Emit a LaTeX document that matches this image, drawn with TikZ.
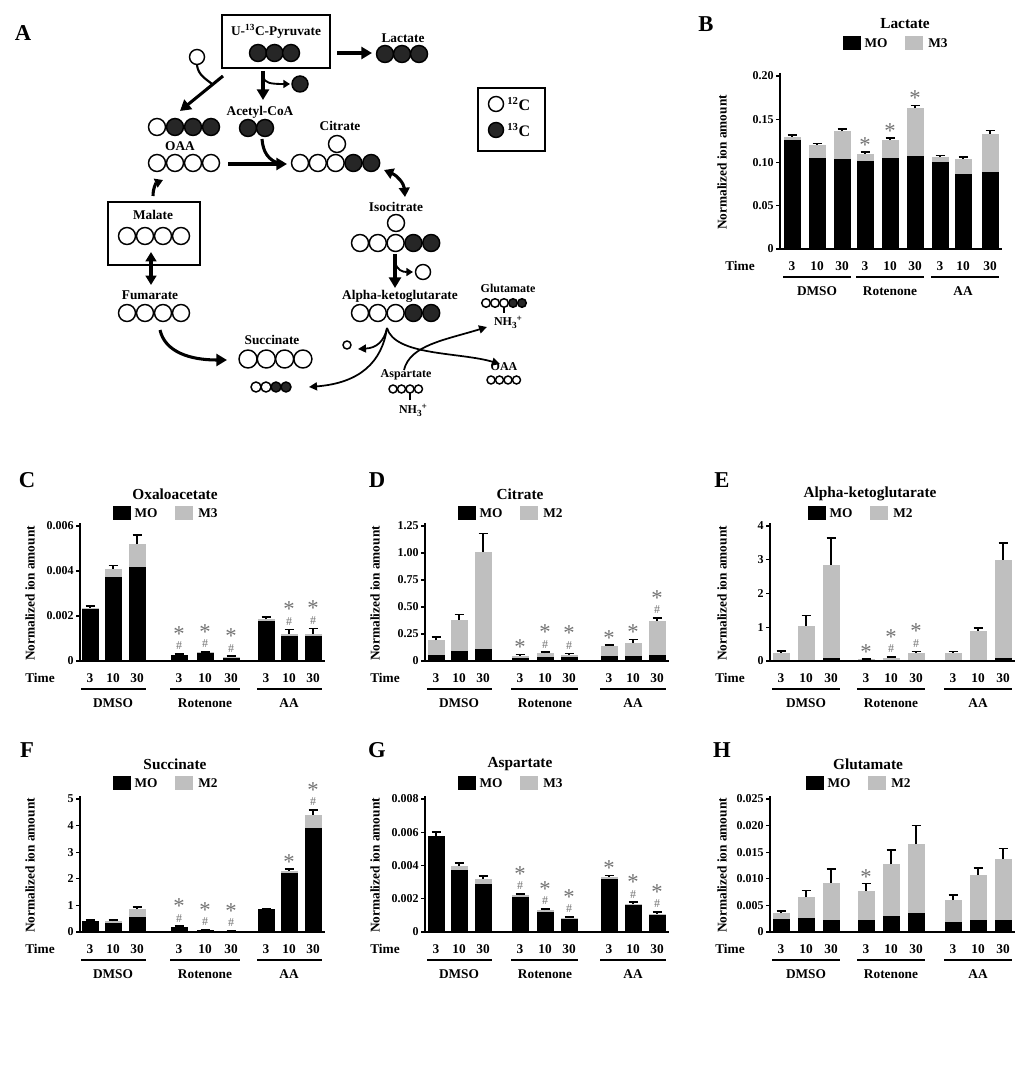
\documentclass[tikz,border=0pt]{standalone}
\usepackage{fontspec}
\setmainfont{Liberation Serif}
\usetikzlibrary{arrows.meta}
\tikzset{
 big/.style={line width=2.3pt,-{Triangle[length=8pt,width=9pt]}},
 thin/.style={line width=1.3pt,-{Triangle[length=6pt,width=6pt]}},
 lbl/.style={font=\bfseries\fontsize{10}{11}\selectfont,inner sep=0pt},
 ttl/.style={font=\bfseries\fontsize{11.5}{12}\selectfont,inner sep=0pt},
 tck/.style={font=\bfseries\fontsize{9}{10}\selectfont,inner sep=0pt},
 let/.style={font=\bfseries\fontsize{17}{17}\selectfont,inner sep=0pt},
 star/.style={text=black!55,font=\fontsize{17}{17}\selectfont,inner sep=0pt},
 hash/.style={text=black!55,font=\fontsize{9}{9}\selectfont,inner sep=0pt},
 sm/.style={lbl,font=\bfseries\fontsize{9}{10}\selectfont},
}
\newcommand\mol[5]{\foreach \c [count=\i from 0] in {#5}{%
  \pgfmathsetmacro\cx{#1+\i*#3}%
  \if b\c \filldraw[fill=black!85,line width=1.1pt] (\cx,#2) circle[radius=#4];
  \else \filldraw[fill=white,line width=1.1pt] (\cx,#2) circle[radius=#4];\fi}}
\newcommand\bars[2]{%
 \pgfmathsetmacro\sc{(\yb-\yt)/\ymax}%
 \foreach \v/\l in {#2}{\pgfmathsetmacro\ty{\yb-\v*\sc}
   \draw[line width=1pt] (\ax-4,\ty)--(\ax,\ty);
   \node[tck,anchor=east] at (\ax-6,\ty) {\l};}
 \foreach \rx/\m/\t/\e/\mk in {#1}{%
  \pgfmathsetmacro\bx{\ax+\rx}\pgfmathsetmacro\ym{\yb-\m*\sc}%
  \pgfmathsetmacro\ytt{\yb-\t*\sc}\pgfmathsetmacro\yee{\yb-(\t+\e)*\sc}%
  \fill[black!25] (\bx-8.5,\yb) rectangle (\bx+8.5,\ytt);
  \fill[black] (\bx-8.5,\yb) rectangle (\bx+8.5,\ym);
  \draw[line width=1.3pt] (\bx,\ytt)--(\bx,\yee) (\bx-4.5,\yee)--(\bx+4.5,\yee);
  \ifnum\mk=1 \node[star] at (\bx,\yee-7) {*};\fi
  \ifnum\mk=2 \node[hash] at (\bx,\yee-8) {\#};\node[star] at (\bx,\yee-20) {*};\fi
 }
 \draw[line width=1.3pt] (\ax,\yt-3)--(\ax,\yb)--(\ax+\xe,\yb);
}
\newcommand\xlabs[9]{%
 \node[lbl] at (\ax-40,\yb+17) {Time};
 \foreach \p/\s in {#1/3,#2/10,#3/30,#4/3,#5/10,#6/30,#7/3,#8/10,#9/30}
   \node[lbl] at (\ax+\p,\yb+17) {\s};
 \draw[line width=0.9pt] (\ax+#1-9,\yb+28)--(\ax+#3+9,\yb+28)
   (\ax+#4-9,\yb+28)--(\ax+#6+9,\yb+28) (\ax+#7-9,\yb+28)--(\ax+#9+9,\yb+28);
 \node[lbl] at (\ax+#2,\yb+42) {DMSO};
 \node[lbl] at (\ax+#5,\yb+42) {Rotenone};
 \node[lbl] at (\ax+#8,\yb+42) {AA};
}
\newcommand\head[5]{%
 \node[ttl] at (#2,#3) {#1};
 \fill (#2-62,#3+12) rectangle (#2-44,#3+26); \node[lbl] at (#2-29,#3+19) {MO};
 \fill[black!25] (#2,#3+12) rectangle (#2+18,#3+26); \node[lbl] at (#2+33,#3+19) {#4};
 \node[lbl,rotate=90] at (#5,{(\yb+\yt)/2}) {Normalized ion amount};
}
\begin{document}
\begin{tikzpicture}[x=0.75pt,y=-0.75pt]
\useasboundingbox (0,0) rectangle (1024,1087);
\fill[white] (0,0) rectangle (1024,1087);
%%%%% Panel A
\node[let] at (23,33) {A};
\draw[line width=1.6pt] (222,15) rectangle (330,68);
\node[lbl] at (276,31) {U-\textsuperscript{13}C-Pyruvate};
\mol{258}{53}{16.5}{8.5}{b,b,b}
\draw[big] (337,53)--(372,53);
\node[lbl] at (403,38) {Lactate};
\mol{385}{54}{17}{8.5}{b,b,b}
\mol{197}{57}{0}{7.5}{w}
\draw[line width=1.6pt] (197,65) .. controls (198,75) and (206,79) .. (212,84);
\draw[big] (223,76)--(180,111);
\draw[big] (263,71)--(263,100);
\draw[line width=1.4pt,-{Triangle[length=5pt,width=6pt]}] (263,77) .. controls (265,83) and (270,84) .. (290,84);
\mol{300}{84}{0}{8}{b}
\node[lbl] at (260,112) {Acetyl-CoA};
\mol{248}{128}{17}{8.5}{b,b}
\mol{157}{127}{18}{8.5}{w,b,b,b}
\node[lbl] at (180,146) {OAA};
\mol{157}{163}{18}{8.5}{w,w,w,w}
\draw[big] (228,164)--(287,164);
\draw[line width=2.3pt] (262,139) .. controls (263,152) and (268,160) .. (280,164);
\node[lbl] at (340,126) {Citrate};
\mol{337}{144}{0}{8.5}{w}
\mol{300}{163}{17.8}{8.5}{w,w,w,b,b}
\draw[line width=2.3pt,{Triangle[length=7pt,width=8pt]}-{Triangle[length=7pt,width=8pt]}] (384,170) .. controls (398,176) and (404,184) .. (405,197);
\node[lbl] at (396,207) {Isocitrate};
\mol{396}{223}{0}{8.5}{w}
\mol{360}{243}{17.8}{8.5}{w,w,w,b,b}
\draw[big] (395,254)--(395,288);
\draw[line width=1.4pt,-{Triangle[length=5pt,width=6pt]}] (395,262) .. controls (397,270) and (402,272) .. (413,272);
\mol{423}{272}{0}{7.5}{w}
\node[lbl] at (400,296) {Alpha-ketoglutarate};
\mol{360}{313}{17.8}{8.5}{w,w,w,b,b}
\draw[line width=1.6pt] (108,202) rectangle (200,265);
\node[lbl] at (153,215) {Malate};
\mol{127}{236}{18}{8.5}{w,w,w,w}
\draw[line width=2.3pt,-{Triangle[length=6pt,width=7pt]}] (153,196) .. controls (153,188) and (156,183) .. (163,180);
\draw[line width=2.3pt,{Triangle[length=7pt,width=8pt]}-{Triangle[length=7pt,width=8pt]}] (151,252)--(151,285);
\node[lbl] at (150,295) {Fumarate};
\mol{127}{313}{18}{8.5}{w,w,w,w}
\draw[big] (160,330) .. controls (165,352) and (190,360) .. (227,360);
\node[lbl] at (272,340) {Succinate};
\mol{248}{359}{18.3}{9}{w,w,w,w}
\mol{256}{387}{10}{5}{w,w,b,b}
\mol{347}{345}{0}{4}{w}
\draw[thin] (387,328) .. controls (384,342) and (376,348) .. (358,349);
\draw[thin] (387,328) .. controls (382,362) and (360,383) .. (309,387);
\draw[thin] (387,328) .. controls (395,356) and (460,352) .. (500,364);
\draw[thin] (404,370) .. controls (410,345) and (445,340) .. (487,327);
\node[sm] at (406,375) {Aspartate};
\mol{393}{389}{8.5}{4}{w,w,w,w}
\draw[line width=1pt] (410,393)--(410,400);
\node[sm] at (413,410) {NH\raisebox{-0.4ex}{\scriptsize 3}\raisebox{0.9ex}{\scriptsize +}};
\node[sm] at (508,288) {Glutamate};
\mol{486}{303}{9}{4.3}{w,w,w,b,b}
\draw[line width=1pt] (504,307)--(504,313);
\node[sm] at (508,322) {NH\raisebox{-0.4ex}{\scriptsize 3}\raisebox{0.9ex}{\scriptsize +}};
\node[sm] at (504,367) {OAA};
\mol{491}{380}{8.5}{4}{w,w,w,w}
\draw[line width=1.6pt] (478,88) rectangle (545,151);
\mol{496}{104}{0}{7.5}{w}\mol{496}{130}{0}{7.5}{b}
\node[lbl,anchor=west,font=\bfseries\fontsize{12}{12}\selectfont] at (507,104) {\textsuperscript{12}C};
\node[lbl,anchor=west,font=\bfseries\fontsize{12}{12}\selectfont] at (507,130) {\textsuperscript{13}C};
%%%%% Panel B
\node[let] at (706,24) {B};
\def\ax{780}\def\yb{249}\def\yt{76}\def\ymax{20}\def\xe{222}
\head{Lactate}{905}{24}{M3}{722}
\bars{12/12.6/13.0/.2/0,37/10.5/12.0/.2/0,62/10.4/13.6/.3/0,85/10.2/11.0/.2/1,110/10.5/12.6/.2/1,135/10.8/16.3/.3/1,160/10.1/10.6/.2/0,183/8.7/10.4/.2/0,210/8.9/13.3/.4/0}{0/0,5/0.05,10/0.10,15/0.15,20/0.20}
\xlabs{12}{37}{62}{85}{110}{135}{160}{183}{210}
%%%%% Panel C
\node[let] at (27,480) {C};
\def\ax{80}\def\yb{661}\def\yt{526}\def\ymax{6}\def\xe{245}
\head{Oxaloacetate}{175}{494}{M3}{30}
\bars{10/2.3/2.35/.08/0,33/3.75/4.1/.15/0,57/4.2/5.2/.4/0,99/.25/.28/.03/2,125/.35/.38/.03/2,151/.15/.18/.03/2,186/1.8/1.85/.1/0,209/1.1/1.2/.2/2,233/1.1/1.2/.25/2}{0/0,2/0.002,4/0.004,6/0.006}
\xlabs{10}{33}{57}{99}{125}{151}{186}{209}{233}
%%%%% Panel D
\node[let] at (377,480) {D};
\def\ax{425}\def\yb{661}\def\yt{526}\def\ymax{1.25}\def\xe{244}
\head{Citrate}{520}{494}{M2}{375}
\bars{11/.06/.19/.03/0,34/.09/.38/.05/0,58/.11/1.01/.17/0,95/.03/.05/.01/1,120/.04/.07/.01/2,144/.04/.06/.01/2,184/.05/.14/.01/1,208/.05/.17/.03/1,232/.06/.37/.03/2}{0/0,.25/0.25,.5/0.50,.75/0.75,1/1.00,1.25/1.25}
\xlabs{11}{34}{58}{95}{120}{144}{184}{208}{232}
%%%%% Panel E
\node[let] at (722,480) {E};
\def\ax{770}\def\yb{661}\def\yt{526}\def\ymax{4}\def\xe{245}
\head{Alpha-ketoglutarate}{870}{494}{M2}{722}
\bars{11/.03/.25/.05/0,36/.03/1.05/.3/0,61/.1/2.85/.8/0,96/.02/.05/.01/1,121/.02/.1/.02/2,146/.02/.25/.03/2,183/.02/.25/.03/0,208/.02/.9/.08/0,233/.08/3.0/.5/0}{0/0,1/1,2/2,3/3,4/4}
\xlabs{11}{36}{61}{96}{121}{146}{183}{208}{233}
%%%%% Panel F
\node[let] at (27,750) {F};
\def\ax{80}\def\yb{932}\def\yt{799}\def\ymax{5}\def\xe{245}
\head{Succinate}{175}{764}{M2}{30}
\bars{10/.43/.43/.03/0,33/.35/.4/.05/0,57/.55/.85/.1/0,99/.2/.2/.02/2,125/.08/.08/.01/2,151/.03/.03/.01/2,186/.85/.85/.03/0,209/2.2/2.3/.06/1,233/3.9/4.4/.2/2}{0/0,1/1,2/2,3/3,4/4,5/5}
\xlabs{10}{33}{57}{99}{125}{151}{186}{209}{233}
%%%%% Panel G
\node[let] at (377,750) {G};
\def\ax{425}\def\yb{932}\def\yt{799}\def\ymax{8}\def\xe{244}
\head{Aspartate}{520}{764}{M3}{375}
\bars{11/5.8/5.8/.2/0,34/3.7/4.0/.15/0,58/2.9/3.2/.15/0,95/2.1/2.2/.1/2,120/1.2/1.3/.1/2,144/.8/.85/.05/2,184/3.2/3.3/.1/1,208/1.6/1.7/.1/2,232/1.0/1.1/.1/2}{0/0,2/0.002,4/0.004,6/0.006,8/0.008}
\xlabs{11}{34}{58}{95}{120}{144}{184}{208}{232}
%%%%% Panel H
\node[let] at (722,750) {H};
\def\ax{770}\def\yb{932}\def\yt{799}\def\ymax{25}\def\xe{245}
\head{Glutamate}{868}{764}{M2}{722}
\bars{11/2.5/3.5/.4/0,36/2.7/6.5/1.3/0,61/2.2/9.3/2.5/0,96/2.3/7.8/1.3/1,121/3.0/12.7/2.7/0,146/3.5/16.5/3.5/0,183/1.8/6.0/1.0/0,208/2.2/10.7/1.3/0,233/2.2/13.7/2.0/0}{0/0,5/0.005,10/0.010,15/0.015,20/0.020,25/0.025}
\xlabs{11}{36}{61}{96}{121}{146}{183}{208}{233}
\end{tikzpicture}
\end{document}
